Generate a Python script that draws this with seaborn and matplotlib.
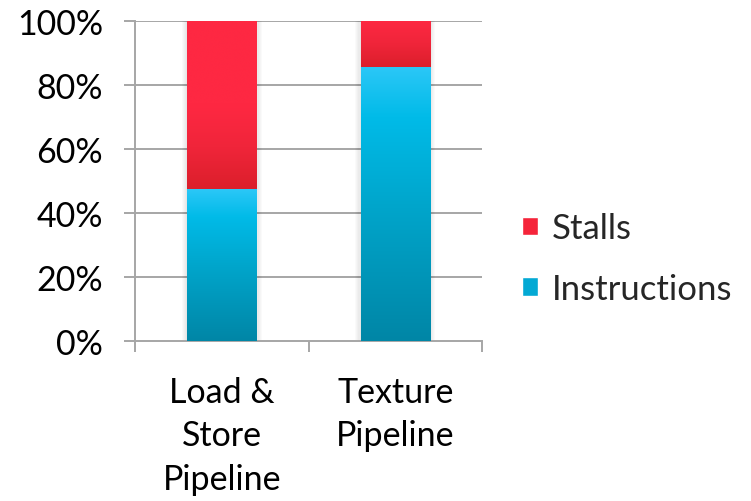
import numpy as np
import pandas as pd
import matplotlib
matplotlib.use("Agg")
import matplotlib.pyplot as plt
import seaborn as sns
from matplotlib.colors import LinearSegmentedColormap
from matplotlib.patches import Patch, Rectangle
from matplotlib.ticker import FixedLocator, PercentFormatter

categories = ["Load &\nStore\nPipeline", "Texture\nPipeline"]
instructions = [47.5, 85.5]
stalls = [52.5, 14.5]
yticks = [0, 20, 40, 60, 80, 100]

sns.set_theme(style="white")
plt.rcParams["font.family"] = ["Lato", "DejaVu Sans"]

df = pd.DataFrame({
    "category": categories,
    "Instructions": instructions,
    "Stalls": stalls,
})
df["total"] = df["Instructions"] + df["Stalls"]

fig = plt.figure(figsize=(7.51, 5.02), dpi=100)
ax = fig.add_axes([135 / 751, 1 - 342 / 502, (482 - 135) / 751, (342 - 22) / 502])

grid_c = "#a6a6a6"
for y in yticks[1:]:
    ax.axhline(y, color=grid_c, lw=1.4, zorder=0)

# stacked bars: full height (stalls on top) then instructions over it
sns.barplot(data=df, x="category", y="total", color="#fe2842", width=0.4,
            ax=ax, zorder=2, saturation=1)
sns.barplot(data=df, x="category", y="Instructions", color="#00b5e2", width=0.4,
            ax=ax, zorder=3, saturation=1)

red_cmap = LinearSegmentedColormap.from_list(
    "red", [(0.0, "#db1f2b"), (0.5, "#f0253a"), (1.0, "#fe2842")])
blue_cmap = LinearSegmentedColormap.from_list(
    "blue", [(0.0, "#0086a6"), (0.5, "#00a6cc"), (0.82, "#01bbe8"), (1.0, "#2bc7f7")])

n = len(categories)
patches = list(ax.patches)
for i, p in enumerate(patches):
    x0, w = p.get_x(), p.get_width()
    if i < n:
        lo, hi = instructions[i], instructions[i] + stalls[i]
        cmap = red_cmap
        if i == 0:
            # upper part of the tall red segment stays bright
            grad = np.clip(np.linspace(0, 1, 256) * 2.0, 0, 1)
        else:
            grad = np.linspace(0, 1, 256)
        # soft shadow around the whole bar
        for k in range(1, 6):
            ax.add_patch(Rectangle((x0 - 0.006 * k, 0), w + 0.012 * k, hi + 0.25 * k,
                                   facecolor="#000000", alpha=0.018, lw=0, zorder=1.5))
    else:
        lo, hi = 0, instructions[i - n]
        cmap = blue_cmap
        grad = np.linspace(0, 1, 256)
    p.set_facecolor("none")
    p.set_edgecolor("none")
    img = ax.imshow(grad.reshape(-1, 1), cmap=cmap, vmin=0, vmax=1,
                    extent=[x0, x0 + w, lo, hi], origin="lower",
                    aspect="auto", zorder=p.get_zorder(), interpolation="bicubic")
    clip = Rectangle((x0, lo), w, hi - lo, transform=ax.transData)
    img.set_clip_path(clip)

ax.set_xlim(-0.5, 1.5)
ax.set_ylim(0, 100)
ax.set_xlabel("")
ax.set_ylabel("")

for side in ["top", "right"]:
    ax.spines[side].set_visible(False)
for side in ["left", "bottom"]:
    ax.spines[side].set_color(grid_c)
    ax.spines[side].set_linewidth(1.4)

ax.set_yticks(yticks)
ax.yaxis.set_major_formatter(PercentFormatter(decimals=0))
ax.tick_params(axis="y", length=8, width=1.4, color=grid_c, direction="out",
               labelsize=24.5, pad=15, left=True)
ax.set_xticks(range(n))
ax.set_xticklabels(categories, linespacing=1.45)
ax.tick_params(axis="x", which="major", length=0, labelsize=24.5, pad=25)
ax.xaxis.set_minor_locator(FixedLocator([-0.5, 0.5, 1.5]))
ax.tick_params(axis="x", which="minor", length=8, width=1.4, color=grid_c,
               direction="out", bottom=True)
for t in ax.get_yticklabels() + ax.get_xticklabels():
    t.set_color("black")

handles = [Patch(facecolor="#f5243a", label="Stalls"),
           Patch(facecolor="#03a9d4", label="Instructions")]
fig.legend(handles=handles, loc="center left", bbox_to_anchor=(522 / 751, 1 - 259.5 / 502),
           frameon=False, fontsize=25, handlelength=0.45, handleheight=0.45,
           handletextpad=0.4, labelspacing=0.81, borderaxespad=0, borderpad=0)

fig.savefig("out.png", dpi=100)
